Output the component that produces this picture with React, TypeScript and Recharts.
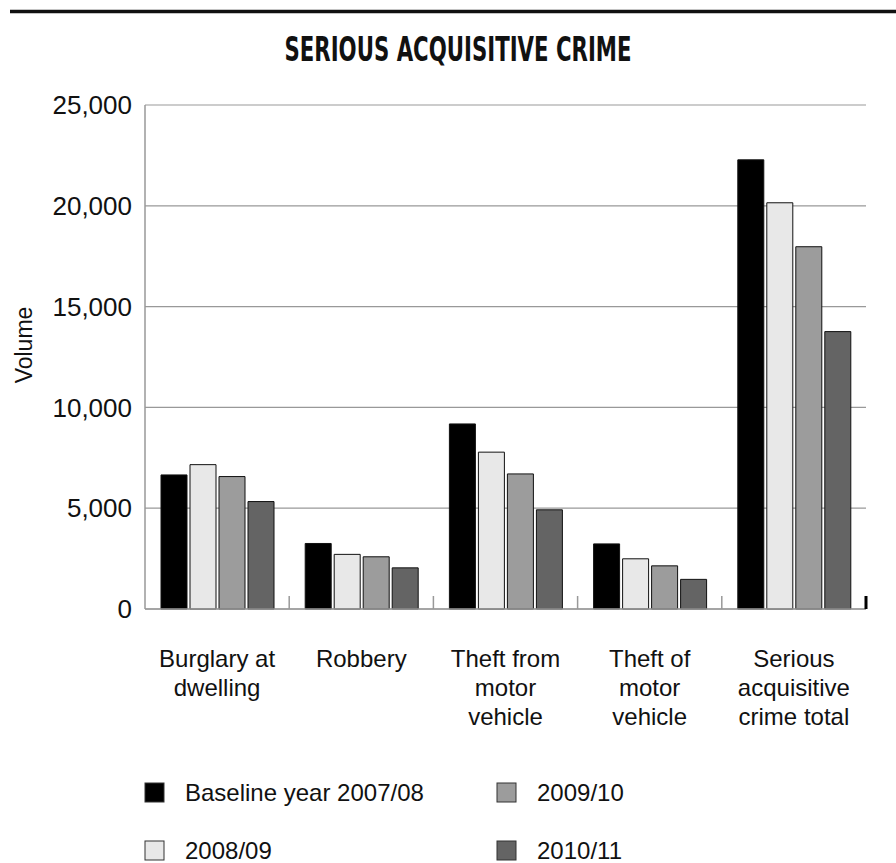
import React from "react";
import {
  BarChart,
  Bar,
  XAxis,
  YAxis,
  CartesianGrid,
} from "recharts";

const categories = [
  "Burglary at\ndwelling",
  "Robbery",
  "Theft from\nmotor\nvehicle",
  "Theft of\nmotor\nvehicle",
  "Serious\nacquisitive\ncrime total",
];
const baseline0708 = [6650, 3250, 9180, 3230, 22280];
const year0809 = [7160, 2710, 7780, 2490, 20150];
const year0910 = [6570, 2590, 6700, 2140, 17970];
const year1011 = [5330, 2040, 4920, 1470, 13760];
const yTicks = [0, 5000, 10000, 15000, 20000, 25000];

const series = [
  { key: "b0708", name: "Baseline year 2007/08", values: baseline0708, fill: "#000000" },
  { key: "y0809", name: "2008/09", values: year0809, fill: "#e8e8e8" },
  { key: "y0910", name: "2009/10", values: year0910, fill: "#9c9c9c" },
  { key: "y1011", name: "2010/11", values: year1011, fill: "#646464" },
];

const data = categories.map((c, i) => {
  const row: Record<string, string | number> = { category: c };
  series.forEach((s) => (row[s.key] = s.values[i]));
  return row;
});

const FONT = "'Liberation Sans', Arial, Helvetica, sans-serif";

const CategoryTick = (props: any) => {
  const { x, y, payload, index, visibleTicksCount } = props;
  const lines = String(payload.value).split("\n");
  const half = payload.offset ?? 0;
  const last = index === (visibleTicksCount ?? categories.length) - 1;
  return (
    <g>
      <line
        x1={x + half}
        x2={x + half}
        y1={y - 13}
        y2={y}
        stroke={last ? "#000" : "#999"}
        strokeWidth={last ? 3 : 1.5}
      />
      <text textAnchor="middle" fontFamily={FONT} fontSize={24} fill="#111">
        {lines.map((l, i) => (
          <tspan key={i} x={x} y={y + 58 + i * 29}>
            {l}
          </tspan>
        ))}
      </text>
    </g>
  );
};

const VolumeLabel = (props: any) => {
  const vb = props.viewBox || {};
  const cx = vb.x + 24;
  const cy = vb.y + vb.height / 2 - 12;
  return (
    <text
      x={cx}
      y={cy}
      transform={`rotate(-90 ${cx} ${cy})`}
      textAnchor="middle"
      dominantBaseline="central"
      fontFamily={FONT}
      fontSize={23}
      fill="#111"
    >
      Volume
    </text>
  );
};

export default function App() {
  return (
    <div
      style={{
        position: "absolute",
        left: 0,
        top: 0,
        width: 896,
        height: 863,
        background: "#fff",
      }}
    >
      <svg
        width={896}
        height={100}
        style={{ position: "absolute", left: 0, top: 0 }}
      >
        <line x1={10} x2={896} y1={11.5} y2={11.5} stroke="#111" strokeWidth={3.5} />
        <text
          x={458}
          y={61}
          textAnchor="middle"
          fontFamily="'DejaVu Sans Condensed', 'Liberation Sans Narrow', sans-serif"
          fontWeight="bold"
          fontSize={33}
          textLength={347}
          lengthAdjust="spacingAndGlyphs"
          fill="#111"
        >
          SERIOUS ACQUISITIVE CRIME
        </text>
      </svg>
      <div style={{ position: "absolute", left: 0, top: 0 }}>
        <BarChart
          width={896}
          height={863}
          data={data}
          margin={{ top: 105, right: 30, bottom: 0, left: 0 }}
          barCategoryGap={16}
          barGap={3}
        >
          <CartesianGrid vertical={false} stroke="#999" strokeWidth={1.2} />
          <XAxis
            dataKey="category"
            height={254}
            tickLine={false}
            tickSize={0}
            tickMargin={0}
            axisLine={{ stroke: "#999", strokeWidth: 1.5 }}
            tick={<CategoryTick />}
            interval={0}
          />
          <YAxis
            width={145}
            domain={[0, 25000]}
            ticks={yTicks}
            tickFormatter={(v: number) => v.toLocaleString("en-GB")}
            tickLine={false}
            tickSize={0}
            tickMargin={13}
            axisLine={{ stroke: "#999", strokeWidth: 1.5 }}
            tick={{ fontFamily: FONT, fontSize: 26, fill: "#111" }}
            label={{ content: VolumeLabel }}
          />
          {series.map((s) => (
            <Bar
              key={s.key}
              dataKey={s.key}
              name={s.name}
              fill={s.fill}
              stroke="#111"
              strokeWidth={1}
              isAnimationActive={false}
            />
          ))}
        </BarChart>
      </div>
      <svg
        width={896}
        height={100}
        style={{ position: "absolute", left: 0, top: 763 }}
      >
        {series.map((s, i) => {
          const col = Math.floor(i / 2);
          const row = i % 2;
          const x = 145 + col * 352;
          const y = 20 + row * 58;
          return (
            <g key={s.key}>
              <rect x={x} y={y} width={19} height={19} fill={s.fill} stroke="#333" strokeWidth={1} />
              <text x={x + 40} y={y + 18} fontFamily={FONT} fontSize={24} fill="#111">
                {s.name}
              </text>
            </g>
          );
        })}
      </svg>
    </div>
  );
}
